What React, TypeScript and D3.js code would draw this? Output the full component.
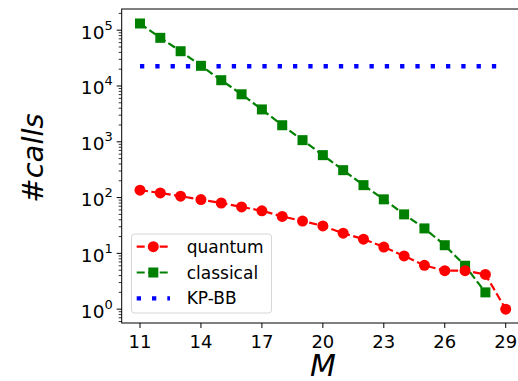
import * as d3 from "d3";
import React from "react";

const M = [11, 12, 13, 14, 15, 16, 17, 18, 19, 20, 21, 22, 23, 24, 25, 26, 27, 28, 29];
const quantum = [136, 121, 106, 92, 80, 68, 58, 46, 38, 31, 23, 18, 13, 9.0, 6.1, 4.9, 4.9, 4.2, 1.0];
const classicalM = [11, 12, 13, 14, 15, 16, 17, 18, 19, 20, 21, 22, 23, 24, 25, 26, 27, 28];
const classical = [132000, 73000, 42000, 23000, 12700, 7100, 3800, 1980, 1070, 576, 310, 167, 93, 50, 28, 14, 6.0, 2.0];
const kpbbM = [11, 29];
const kpbb = [22600, 22600];
const xTicks = [11, 14, 17, 20, 23, 26, 29];
const yTicks = [0, 1, 2, 3, 4, 5];

const W = 518;
const H = 381;
const left = 121.7;
const right = 524;
const top = 9;
const bottom = 323;
const font = "DejaVu Sans, sans-serif";

export default function App() {
  const x = d3.scaleLinear().domain([10.1, 29.9]).range([left, right]);
  const y = d3.scaleLog().domain([0.565, 10 ** 5.38]).range([bottom, top]);

  const line = d3
    .line<[number, number]>()
    .x((d) => x(d[0]))
    .y((d) => y(d[1]));

  const qPts = M.map((m, i) => [m, quantum[i]] as [number, number]);
  const cPts = classicalM.map((m, i) => [m, classical[i]] as [number, number]);
  const kPts = kpbbM.map((m, i) => [m, kpbb[i]] as [number, number]);

  const minor: number[] = [];
  for (let e = -1; e <= 5; e++) {
    for (let k = 2; k <= 9; k++) {
      const v = k * 10 ** e;
      if (v >= y.domain()[0] && v <= y.domain()[1]) minor.push(v);
    }
  }

  const sq = 10;
  const lx = 131.5;
  const ly = 234;
  const rows = [246.7, 272.5, 298.3];

  return (
    <svg
      width={W}
      height={H}
      style={{ position: "absolute", left: 0, top: 0, background: "#fff" }}
      fontFamily={font}
    >
      {/* data */}
      <path d={line(kPts) ?? ""} fill="none" stroke="#0000ff" strokeWidth={4.3} strokeDasharray="4.3 11" />
      <path d={line(cPts) ?? ""} fill="none" stroke="#008000" strokeWidth={2.2} strokeDasharray="8 3.5" />
      {cPts.map((d, i) => (
        <rect key={i} x={x(d[0]) - sq / 2} y={y(d[1]) - sq / 2} width={sq} height={sq} fill="#008000" />
      ))}
      <path d={line(qPts) ?? ""} fill="none" stroke="#ff0000" strokeWidth={2.2} strokeDasharray="8 3.5" />
      {qPts.map((d, i) => (
        <circle key={i} cx={x(d[0])} cy={y(d[1])} r={5.5} fill="#ff0000" />
      ))}

      {/* spines */}
      <rect x={left} y={top} width={right - left} height={bottom - top} fill="none" stroke="#000" strokeWidth={1} />

      {/* x ticks */}
      {xTicks.map((t) => (
        <g key={t} transform={`translate(${x(t)},${bottom})`}>
          <line y2={5} stroke="#000" />
          <text y={25} textAnchor="middle" fontSize={18} fill="#000">
            {t}
          </text>
        </g>
      ))}

      {/* y ticks */}
      {minor.map((v, i) => (
        <line key={i} x1={left} x2={left - 3} y1={y(v)} y2={y(v)} stroke="#000" strokeWidth={0.8} />
      ))}
      {yTicks.map((e) => (
        <g key={e} transform={`translate(${left},${y(10 ** e)})`}>
          <line x2={-5} stroke="#000" />
          <text x={-9} y={8.5} textAnchor="end" fontSize={18.5} fill="#000">
            10
            <tspan dy={-9} fontSize={13}>
              {e}
            </tspan>
          </text>
        </g>
      ))}

      {/* axis labels */}
      <text x={323} y={376} textAnchor="middle" fontSize={30} fontStyle="italic" fill="#000">
        M
      </text>
      <text
        transform="translate(43,158) rotate(-90)"
        textAnchor="middle"
        fontSize={29}
        fontStyle="italic"
        fill="#000"
      >
        #calls
      </text>

      {/* legend */}
      <rect x={lx} y={ly} width={140} height={79} rx={3} fill="#fff" fillOpacity={0.8} stroke="#d6d6d6" />
      <g>
        <line x1={136.7} x2={170} y1={rows[0]} y2={rows[0]} stroke="#ff0000" strokeWidth={2.2} strokeDasharray="8 3.5" />
        <circle cx={153.3} cy={rows[0]} r={5.5} fill="#ff0000" />
        <line x1={136.7} x2={170} y1={rows[1]} y2={rows[1]} stroke="#008000" strokeWidth={2.2} strokeDasharray="8 3.5" />
        <rect x={153.3 - sq / 2} y={rows[1] - sq / 2} width={sq} height={sq} fill="#008000" />
        <line x1={136.7} x2={170} y1={rows[2]} y2={rows[2]} stroke="#0000ff" strokeWidth={4.3} strokeDasharray="4.3 11" />
        {["quantum", "classical", "KP-BB"].map((s, i) => (
          <text key={s} x={186.7} y={rows[i] + 6} fontSize={17} fill="#000">
            {s}
          </text>
        ))}
      </g>
    </svg>
  );
}
